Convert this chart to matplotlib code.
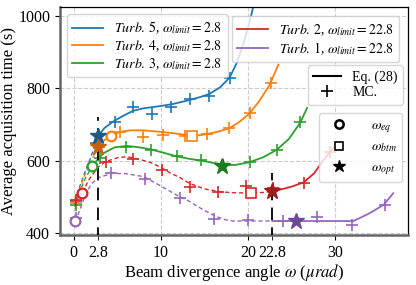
import matplotlib.pyplot as plt
import matplotlib.lines as mlines
import numpy as np

plt.rcParams['font.family'] = ['Liberation Serif', 'DejaVu Serif']
plt.rcParams['mathtext.fontset'] = 'stix'

# curvas de la Eq. (28)
t5_x = [0.1, 0.7, 1.3, 1.9, 2.8, 3.5, 4.5, 5.5, 6.8, 8.0, 9.9, 11.4, 13.3, 14.5, 15.6, 16.8, 17.9, 18.7, 19.5, 20.2, 20.7]
t5_y = [488, 530, 570, 606, 668, 690, 708, 722, 738, 745, 751, 757, 768, 776, 785, 803, 830, 870, 925, 985, 1035]
t4_x = [0.1, 0.7, 1.3, 1.9, 2.8, 3.5, 4.3, 5.3, 6.5, 8.0, 9.9, 11.8, 13.6, 15.2, 16.5, 17.9, 19.0, 20.2, 21.3, 22.5, 23.5]
t4_y = [483, 525, 562, 595, 637, 657, 668, 680, 684, 684, 680, 675, 668, 673, 680, 690, 707, 731, 765, 810, 866]
t3_x = [0.1, 0.7, 1.3, 2.1, 2.8, 3.5, 4.7, 6.1, 7.5, 8.9, 10.3, 11.8, 13.3, 14.7, 16.0, 17.0, 18.5, 20.2, 21.8, 23.3, 24.7, 26.0, 26.8]
t3_y = [472, 515, 550, 585, 606, 622, 637, 641, 637, 631, 622, 612, 605, 600, 594, 589, 588, 596, 610, 630, 660, 705, 746]
t2_x = [0.1, 0.9, 1.8, 2.8, 3.6, 5.0, 6.1, 7.5, 8.8, 9.9, 11.0, 12.2, 13.3, 15.0, 16.8, 18.5, 20.4, 21.7, 22.8, 23.7, 25.0, 26.4, 27.6, 28.7, 29.8]
t2_y = [480, 510, 550, 582, 597, 608, 611, 604, 595, 583, 567, 553, 537, 522, 514, 511, 511, 512, 515, 520, 528, 540, 565, 602, 636]
t1_x = [0.15, 0.7, 1.3, 2.0, 2.8, 4.4, 6.0, 8.0, 10.0, 11.8, 13.3, 14.8, 16.4, 17.5, 18.3, 20.0, 22.8, 26.0, 29.0, 32.1, 33.0, 34.0, 35.6, 36.7]
t1_y = [432, 464, 505, 535, 553, 565, 564, 556, 530, 505, 487, 465, 445, 436, 433, 433, 433, 433, 433, 433, 443, 455, 478, 510]

# puntos Monte Carlo
t5_mc_x = [0.25, 2.5, 4.7, 6.8, 9.0, 11.2, 13.4, 15.5, 17.9]
t5_mc_y = [488, 650, 707, 748, 729, 749, 770, 779, 828]
t4_mc_x = [0.3, 2.9, 5.3, 8.0, 10.2, 12.8, 15.3, 17.8, 20.2, 22.7]
t4_mc_y = [483, 639, 680, 666, 671, 667, 674, 690, 731, 816]
t3_mc_x = [0.2, 3.0, 6.0, 8.9, 11.8, 14.6, 17.1, 20.2, 23.3, 26.0]
t3_mc_y = [477, 607, 639, 630, 613, 602, 588, 597, 629, 708]
t2_mc_x = [0.3, 3.7, 6.8, 10.1, 13.3, 16.6, 19.8, 22.9, 26.4, 29.4]
t2_mc_y = [492, 595, 606, 574, 528, 514, 530, 524, 539, 625]
t1_mc_x = [0.2, 4.3, 8.2, 12.2, 16.1, 20.0, 24.0, 27.9, 31.9, 35.7]
t1_mc_y = [442, 565, 548, 496, 440, 435, 434, 445, 423, 476]

limites = [2.8, 2.8, 2.8, 22.8, 22.8]
nombres = ['5', '4', '3', '2', '1']
colores = ['#1f77b4', '#ff7f0e', '#2ca02c', '#d62728', '#9467bd']
oscuros = ['#1a5a8a', '#c8600c', '#1e7a1e', '#a01c1c', '#6e4a96']

# omega_eq, omega_btm, omega_opt (indice de la curva)
eq_i = [1, 2, 3, 4]
eq_x = [4.3, 2.1, 0.9, 0.15]
eq_y = [667, 584, 511, 432]
btm_i = [1, 3]
btm_x = [13.6, 20.4]
btm_y = [668, 511]
opt_i = [0, 1, 2, 3, 4]
opt_x = [2.8, 2.8, 17.0, 22.8, 25.5]
opt_y = [668, 637, 586, 515, 433]

curvas = [(t5_x, t5_y), (t4_x, t4_y), (t3_x, t3_y), (t2_x, t2_y), (t1_x, t1_y)]
mcs = [(t5_mc_x, t5_mc_y), (t4_mc_x, t4_mc_y), (t3_mc_x, t3_mc_y), (t2_mc_x, t2_mc_y), (t1_mc_x, t1_mc_y)]

fig = plt.figure(figsize=(4.16, 2.85), dpi=100)
ax = fig.add_axes([0.144, 0.175, 0.837, 0.8])

lineas = []
for k in range(5):
    x = np.array(curvas[k][0])
    y = np.array(curvas[k][1])
    lim = limites[k]
    m1 = x <= lim
    m2 = x >= lim
    ax.plot(x[m1], y[m1], '--', color=colores[k], lw=1.0, dashes=(3, 2))
    l, = ax.plot(x[m2], y[m2], '-', color=colores[k], lw=1.3,
                 label=r'$Turb.\,%s$, $\omega_{limit}=%s$' % (nombres[k], lim))
    lineas.append(l)
    ax.plot(mcs[k][0], mcs[k][1], '+', color=colores[k], ms=9, mew=1.2)

for i, xx, yy in zip(eq_i, eq_x, eq_y):
    ax.plot(xx, yy, 'o', mfc='white', mec=colores[i], mew=1.6, ms=7, zorder=5)
for i, xx, yy in zip(btm_i, btm_x, btm_y):
    ax.plot(xx, yy, 's', mfc='white', mec=colores[i], mew=1.2, ms=7, zorder=5)
for i, xx, yy in zip(opt_i, opt_x, opt_y):
    ax.plot(xx, yy, '*', color=oscuros[i], mec=oscuros[i], ms=12, zorder=6)

# lineas verticales de omega_limit
ax.plot([2.8, 2.8], [380, 722], color='black', lw=1.3, dashes=(7, 4), zorder=4)
ax.plot([22.8, 22.8], [380, 565], color='black', lw=1.3, dashes=(7, 4), zorder=4)

ax.set_xlim(-1.6, 38.4)
ax.set_ylim(394, 1025)
ax.set_xticks([0, 10, 20, 30])
ax.set_xticks([2.8, 22.8], minor=True)
ax.set_xticklabels(['0', '10', '20', '30'])
ax.set_xticklabels(['2.8', '22.8'], minor=True)
ax.set_yticks([400, 600, 800, 1000])
ax.tick_params(axis='both', which='both', labelsize=11.5, length=3.5)
ax.grid(True, which='major', ls='--', color='#cccccc', lw=0.8)
for s in ['left', 'bottom']:
    ax.spines[s].set_color('#666666')
    ax.spines[s].set_linewidth(1.8)
for s in ['top', 'right']:
    ax.spines[s].set_color('black')
    ax.spines[s].set_linewidth(0.9)

ax.set_xlabel(r'Beam divergence angle $\omega$ ($\mu rad$)', fontsize=12, labelpad=1)
ax.set_ylabel('Average acquisition time (s)', fontsize=12, labelpad=0.5)

leg1 = ax.legend(handles=lineas[:3], loc='upper left', fontsize=10, handlelength=2.2,
                 labelspacing=0.15)
ax.add_artist(leg1)
leg2 = ax.legend(handles=lineas[3:], loc='upper right', fontsize=10, handlelength=2.2,
                 labelspacing=0.2, bbox_to_anchor=(0.995, 0.99))
ax.add_artist(leg2)
h_eq = mlines.Line2D([], [], color='black', lw=1.5, label='Eq. (28)')
h_mc = mlines.Line2D([], [], color='black', ls='', marker='+', ms=8, mew=1.2, label='MC.')
leg3 = ax.legend(handles=[h_eq, h_mc], loc='upper right', bbox_to_anchor=(0.986, 0.746),
                 borderaxespad=0, fontsize=10, labelspacing=0.15)
ax.add_artist(leg3)
h1 = mlines.Line2D([], [], ls='', marker='o', mfc='white', mec='black', mew=1.8, ms=6, label=r'$\omega_{eq}$')
h2 = mlines.Line2D([], [], ls='', marker='s', mfc='white', mec='black', mew=1.2, ms=6, label=r'$\omega_{btm}$')
h3 = mlines.Line2D([], [], ls='', marker='*', color='black', ms=9, label=r'$\omega_{opt}$')
ax.legend(handles=[h1, h2, h3], loc='upper right', bbox_to_anchor=(0.983, 0.535),
          borderaxespad=0, fontsize=10, handletextpad=1.3, labelspacing=0.45)

fig.savefig('out.png', dpi=100)
